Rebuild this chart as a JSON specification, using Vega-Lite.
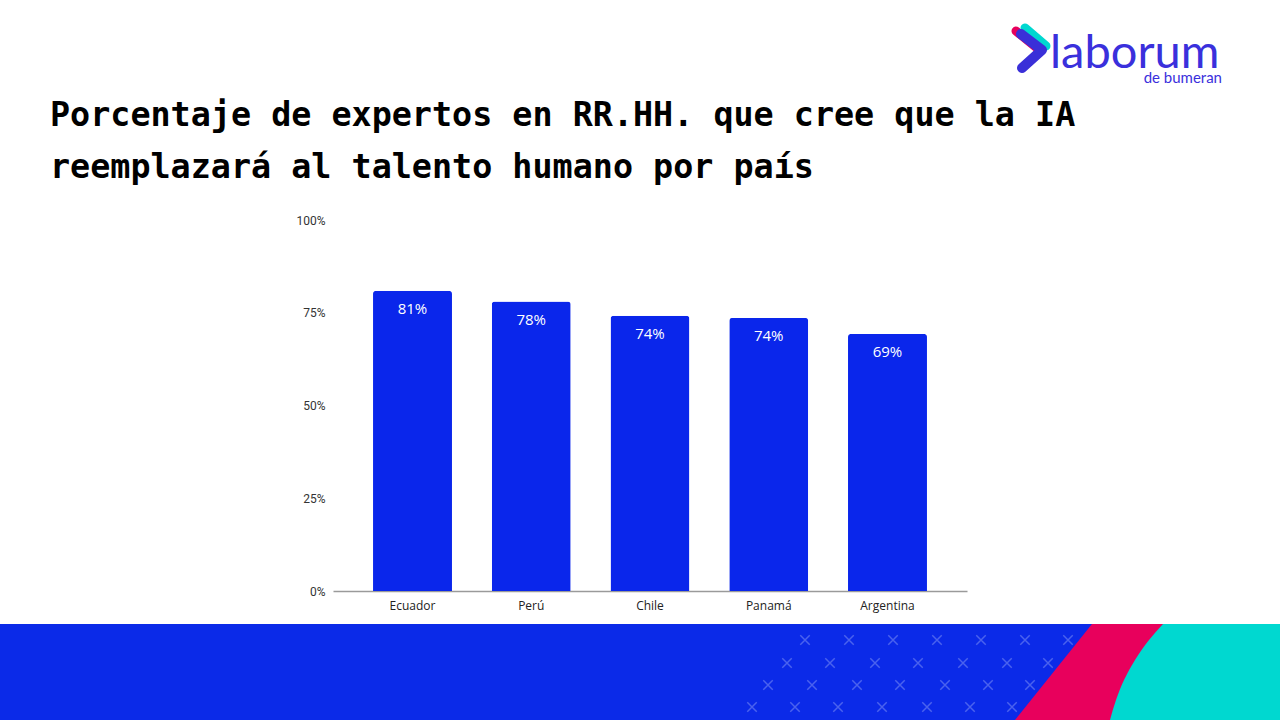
{
  "$schema": "https://vega.github.io/schema/vega-lite/v6.json",
  "autosize": {"type": "none"},
  "width": 634,
  "height": 371,
  "padding": {"left": 333, "top": 220, "right": 313, "bottom": 129},
  "background": "#ffffff",
  "config": {"view": {"stroke": null}},
  "title": {
    "text": ["Porcentaje de expertos en RR.HH. que cree que la IA", "reemplazará al talento humano por país"],
    "anchor": "start",
    "frame": "group",
    "dx": -283,
    "dy": 192,
    "font": "DejaVu Sans Mono",
    "fontWeight": "bold",
    "fontSize": 33.4,
    "lineHeight": 52,
    "color": "#000000",
    "offset": 30
  },
  "datasets": {
    "bars": [
      {"country": "Ecuador", "value": 0.809},
      {"country": "Perú", "value": 0.78},
      {"country": "Chile", "value": 0.742},
      {"country": "Panamá", "value": 0.736},
      {"country": "Argentina", "value": 0.693}
    ],
    "band": [{"x0": 0, "x1": 1280, "y0": 624, "y1": 720}],
    "pink": [
      {"py": 624, "xa": 1092, "xb": 1280},
      {"py": 720, "xa": 1015, "xb": 1280}
    ],
    "teal": [
      {"py": 624, "xa": 1163, "xb": 1280},
      {"py": 640, "xa": 1149, "xb": 1280},
      {"py": 660, "xa": 1135, "xb": 1280},
      {"py": 680, "xa": 1124, "xb": 1280},
      {"py": 700, "xa": 1116, "xb": 1280},
      {"py": 720, "xa": 1110, "xb": 1280}
    ],
    "crosses": [
      {"px": 805, "py": 640}, {"px": 849, "py": 640}, {"px": 893, "py": 640}, {"px": 937, "py": 640}, {"px": 981, "py": 640}, {"px": 1025, "py": 640}, {"px": 1068, "py": 640},
      {"px": 787, "py": 663}, {"px": 830, "py": 663}, {"px": 875, "py": 663}, {"px": 918, "py": 663}, {"px": 963, "py": 663}, {"px": 1007, "py": 663}, {"px": 1048, "py": 663},
      {"px": 768, "py": 685}, {"px": 812, "py": 685}, {"px": 857, "py": 685}, {"px": 900, "py": 685}, {"px": 945, "py": 685}, {"px": 988, "py": 685}, {"px": 1030, "py": 685},
      {"px": 752, "py": 707}, {"px": 795, "py": 707}, {"px": 838, "py": 707}, {"px": 882, "py": 707}, {"px": 927, "py": 707}, {"px": 970, "py": 707}, {"px": 1012, "py": 707}
    ],
    "chevron": [
      {"part": "pink", "ord": 1, "px": 1016, "py": 31},
      {"part": "pink", "ord": 2, "px": 1037, "py": 48},
      {"part": "teal", "ord": 1, "px": 1025, "py": 28},
      {"part": "teal", "ord": 2, "px": 1046, "py": 46},
      {"part": "blue", "ord": 1, "px": 1021, "py": 34},
      {"part": "blue", "ord": 2, "px": 1042, "py": 50},
      {"part": "blue", "ord": 3, "px": 1022, "py": 68}
    ],
    "logo": [{"label": "laborum", "px": 1050, "py": 68}],
    "logosub": [{"label": "de bumeran", "px": 1222, "py": 83}]
  },
  "layer": [
    {
      "data": {"name": "band"},
      "mark": {"type": "rect", "color": "#0b2ae8"},
      "encoding": {
        "x": {"field": "x0", "type": "quantitative", "scale": {"domain": [333, 967], "nice": false, "zero": false}, "axis": null},
        "x2": {"field": "x1"},
        "y": {"field": "y0", "type": "quantitative", "scale": {"domain": [220, 591], "reverse": true, "nice": false, "zero": false}, "axis": null},
        "y2": {"field": "y1"}
      }
    },
    {
      "data": {"name": "pink"},
      "mark": {"type": "area", "orient": "horizontal", "color": "#e8005c"},
      "encoding": {
        "y": {"field": "py", "type": "quantitative", "scale": {"domain": [220, 591], "reverse": true, "nice": false, "zero": false}, "axis": null},
        "x": {"field": "xa", "type": "quantitative", "scale": {"domain": [333, 967], "nice": false, "zero": false}, "axis": null},
        "x2": {"field": "xb"}
      }
    },
    {
      "data": {"name": "teal"},
      "mark": {"type": "area", "orient": "horizontal", "color": "#00d8d0", "interpolate": "monotone"},
      "encoding": {
        "y": {"field": "py", "type": "quantitative", "scale": {"domain": [220, 591], "reverse": true, "nice": false, "zero": false}, "axis": null},
        "x": {"field": "xa", "type": "quantitative", "scale": {"domain": [333, 967], "nice": false, "zero": false}, "axis": null},
        "x2": {"field": "xb"}
      }
    },
    {
      "data": {"name": "crosses"},
      "mark": {"type": "point", "shape": "M -1 -1 L 1 1 M -1 1 L 1 -1", "filled": false, "size": 90, "strokeWidth": 1.5, "color": "#5a70f0", "opacity": 0.8},
      "encoding": {
        "x": {"field": "px", "type": "quantitative", "scale": {"domain": [333, 967], "nice": false, "zero": false}, "axis": null},
        "y": {"field": "py", "type": "quantitative", "scale": {"domain": [220, 591], "reverse": true, "nice": false, "zero": false}, "axis": null}
      }
    },
    {
      "data": {"name": "chevron"},
      "transform": [{"filter": "datum.part === 'pink'"}],
      "mark": {"type": "line", "color": "#e8005c", "strokeWidth": 9, "strokeCap": "round", "strokeJoin": "round"},
      "encoding": {
        "x": {"field": "px", "type": "quantitative", "scale": {"domain": [333, 967], "nice": false, "zero": false}, "axis": null},
        "y": {"field": "py", "type": "quantitative", "scale": {"domain": [220, 591], "reverse": true, "nice": false, "zero": false}, "axis": null},
        "order": {"field": "ord"}
      }
    },
    {
      "data": {"name": "chevron"},
      "transform": [{"filter": "datum.part === 'teal'"}],
      "mark": {"type": "line", "color": "#00d8d0", "strokeWidth": 9, "strokeCap": "round", "strokeJoin": "round"},
      "encoding": {
        "x": {"field": "px", "type": "quantitative", "scale": {"domain": [333, 967], "nice": false, "zero": false}, "axis": null},
        "y": {"field": "py", "type": "quantitative", "scale": {"domain": [220, 591], "reverse": true, "nice": false, "zero": false}, "axis": null},
        "order": {"field": "ord"}
      }
    },
    {
      "data": {"name": "chevron"},
      "transform": [{"filter": "datum.part === 'blue'"}],
      "mark": {"type": "line", "color": "#3a2fd8", "strokeWidth": 10, "strokeCap": "round", "strokeJoin": "round"},
      "encoding": {
        "x": {"field": "px", "type": "quantitative", "scale": {"domain": [333, 967], "nice": false, "zero": false}, "axis": null},
        "y": {"field": "py", "type": "quantitative", "scale": {"domain": [220, 591], "reverse": true, "nice": false, "zero": false}, "axis": null},
        "order": {"field": "ord"}
      }
    },
    {
      "data": {"name": "logo"},
      "mark": {"type": "text", "font": "Lato", "fontSize": 47, "color": "#3a30dc", "align": "left", "baseline": "alphabetic"},
      "encoding": {
        "x": {"field": "px", "type": "quantitative", "scale": {"domain": [333, 967], "nice": false, "zero": false}, "axis": null},
        "y": {"field": "py", "type": "quantitative", "scale": {"domain": [220, 591], "reverse": true, "nice": false, "zero": false}, "axis": null},
        "text": {"field": "label"}
      }
    },
    {
      "data": {"name": "logosub"},
      "mark": {"type": "text", "font": "Lato", "fontSize": 15, "color": "#3a30dc", "align": "right", "baseline": "alphabetic"},
      "encoding": {
        "x": {"field": "px", "type": "quantitative", "scale": {"domain": [333, 967], "nice": false, "zero": false}, "axis": null},
        "y": {"field": "py", "type": "quantitative", "scale": {"domain": [220, 591], "reverse": true, "nice": false, "zero": false}, "axis": null},
        "text": {"field": "label"}
      }
    },
    {
      "data": {"name": "bars"},
      "encoding": {
        "x": {
          "field": "country", "type": "nominal", "sort": null,
          "scale": {"paddingInner": 0.335, "paddingOuter": 0.337},
          "axis": {"title": null, "labelAngle": 0, "ticks": false, "domainColor": "#9a9a9a", "domainWidth": 1.5, "labelFont": "Open Sans", "labelFontSize": 12, "labelColor": "#222222", "labelPadding": 9}
        },
        "y": {
          "field": "value", "type": "quantitative",
          "scale": {"domain": [0, 1], "nice": false},
          "axis": {"title": null, "values": [0, 0.25, 0.5, 0.75, 1], "format": ".0%", "ticks": false, "domain": false, "gridColor": "#d9d9d9", "gridWidth": 1, "labelFont": "Roboto", "labelFontSize": 12, "labelColor": "#333333", "labelPadding": 8}
        }
      },
      "layer": [
        {"mark": {"type": "bar", "color": "#0a26eb", "cornerRadiusTopLeft": 3, "cornerRadiusTopRight": 3}},
        {
          "mark": {"type": "text", "color": "#ffffff", "baseline": "top", "dy": 11, "font": "Open Sans", "fontSize": 15},
          "encoding": {"text": {"field": "value", "type": "quantitative", "format": ".0%"}}
        }
      ]
    }
  ],
  "resolve": {"scale": {"x": "independent", "y": "independent"}}
}
